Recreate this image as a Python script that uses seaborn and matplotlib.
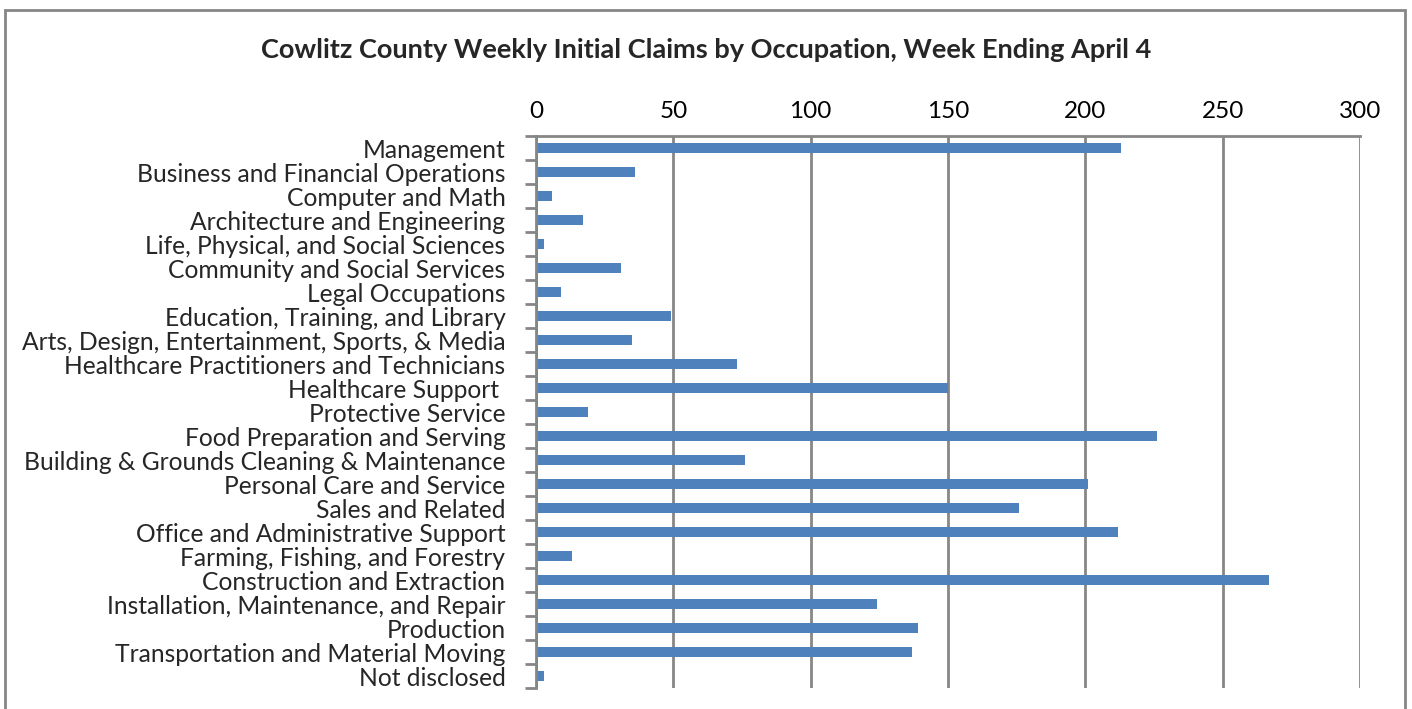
"""
Horizontal bar chart of Cowlitz County weekly initial claims by occupation.
"""

import pandas as pd
import matplotlib.pyplot as plt
import seaborn as sns
from matplotlib.patches import Rectangle
from matplotlib.ticker import FixedLocator

occupations = [
    "Management",
    "Business and Financial Operations",
    "Computer and Math",
    "Architecture and Engineering",
    "Life, Physical, and Social Sciences",
    "Community and Social Services",
    "Legal Occupations",
    "Education, Training, and Library",
    "Arts, Design, Entertainment, Sports, & Media",
    "Healthcare Practitioners and Technicians",
    "Healthcare Support ",
    "Protective Service",
    "Food Preparation and Serving",
    "Building & Grounds Cleaning & Maintenance",
    "Personal Care and Service",
    "Sales and Related",
    "Office and Administrative Support",
    "Farming, Fishing, and Forestry",
    "Construction and Extraction",
    "Installation, Maintenance, and Repair",
    "Production",
    "Transportation and Material Moving",
    "Not disclosed",
]
claims = [213, 36, 6, 17, 3, 31, 9, 49, 35, 73, 150, 19, 226, 76,
          201, 176, 212, 13, 267, 124, 139, 137, 3]
x_ticks = [0, 50, 100, 150, 200, 250, 300]

data = pd.DataFrame({"occupation": occupations, "claims": claims})

sns.set_style("white")
plt.rcParams['font.family'] = ['Lato', 'DejaVu Sans']

fig = plt.figure(figsize=(14.12, 7.09), dpi=100)
ax = fig.add_axes([536 / 1412, 21 / 709, 824 / 1412, 552 / 709])

sns.barplot(data=data, x="claims", y="occupation", orient="h",
            color="#4F81BD", saturation=1, width=0.39, linewidth=0, ax=ax)

ax.set_xlim(0, 300)
ax.set_ylim(len(occupations) - 0.5, -0.5)
ax.xaxis.tick_top()
ax.set_xticks(x_ticks)
ax.tick_params(axis="x", length=0, pad=10, labelsize=17.5, colors="black")
ax.tick_params(axis="y", which="major", length=0, pad=22, labelsize=17.7)
ax.yaxis.set_minor_locator(FixedLocator([i - 0.5 for i in range(len(occupations) + 1)]))
ax.tick_params(axis="y", which="minor", left=True, length=8, width=2, color="#868686")
ax.set_xlabel("")
ax.set_ylabel("")

# vertical gridlines
ax.grid(True, axis="x", color="#868686", linewidth=2)
ax.set_axisbelow(True)

for side in ["right", "bottom"]:
    ax.spines[side].set_visible(False)
for side in ["top", "left"]:
    ax.spines[side].set_color("#868686")
    ax.spines[side].set_linewidth(2)

fig.text(0.5, 1 - 50 / 709, "Cowlitz County Weekly Initial Claims by Occupation, Week Ending April 4",
         ha="center", va="center", fontsize=19.5, fontweight="bold")

# chart frame
fig.patches.append(Rectangle((5 / 1412, -0.05), 1400 / 1412, 1.05 - 10 / 709,
                             transform=fig.transFigure, fill=False,
                             edgecolor="#868686", linewidth=2))

fig.savefig("out.png", dpi=100)
plt.close()
